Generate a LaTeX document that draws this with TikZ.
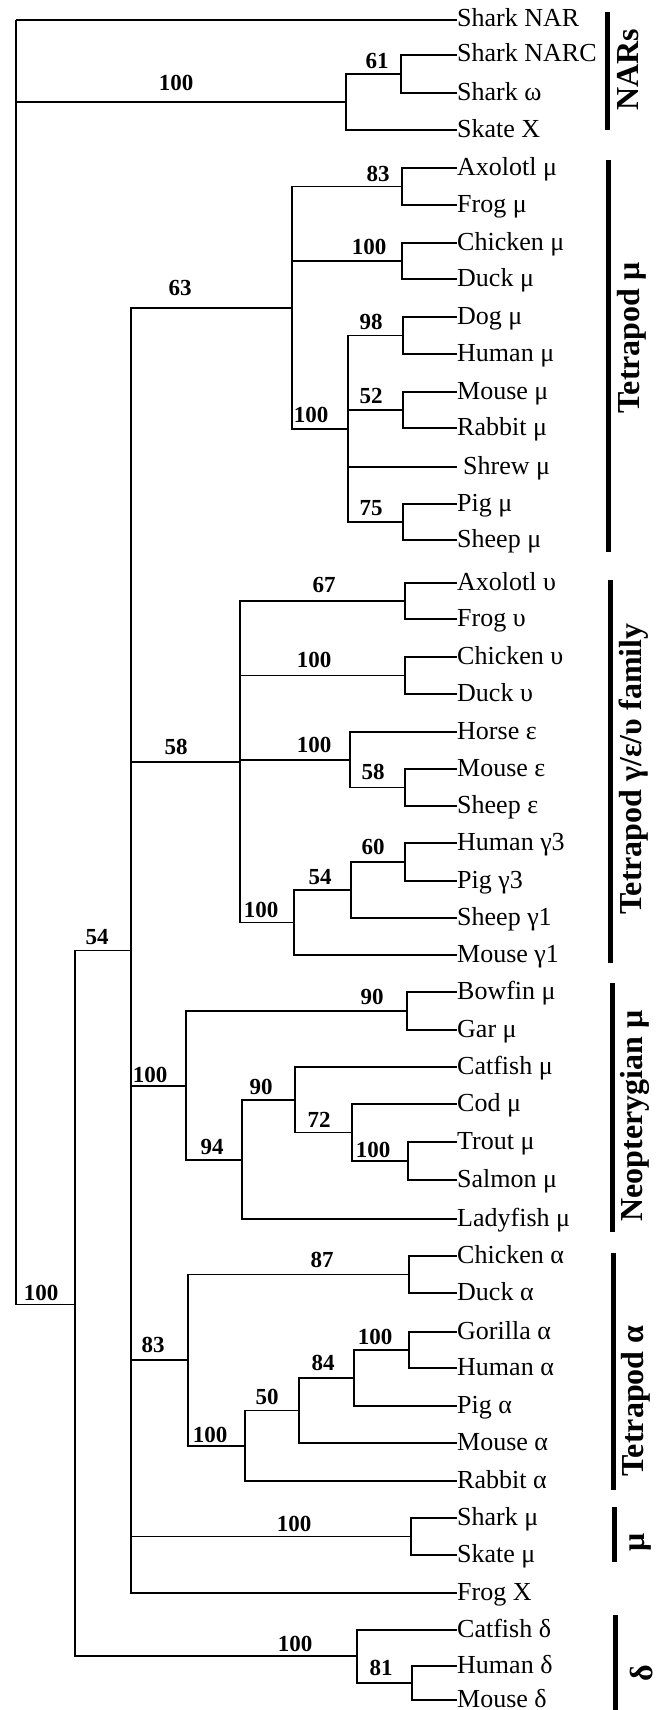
\documentclass[tikz,border=0pt]{standalone}
\usepackage{fontspec}
\setmainfont{Liberation Serif}
\usepackage{tikz}
\usetikzlibrary{positioning,calc}
\newcommand{\leaffont}{\fontsize{26}{28}\selectfont}
\newcommand{\bootfont}{\fontsize{23}{25}\selectfont\bfseries}
\newcommand{\groupfont}{\fontsize{32}{34}\selectfont\bfseries}
\tikzstyle{leaf} = [anchor=west, inner sep=0pt, font=\leaffont, text height=14pt, text depth=0pt]
\tikzstyle{branch} = [line width=1.5pt]

\begin{document}
\begin{tikzpicture}[x=1pt, y=-1pt,
    boot/.style={font=\bootfont, inner sep=0pt},
    grouplabel/.style={rotate=90, font=\groupfont, inner sep=0pt},
    groupbar/.style={line width=5pt}]
    \useasboundingbox (0,0) rectangle (662,1710);

    % Leaves
    \node[leaf] (sharkNAR) at (457,20) {Shark NAR};
    \node[leaf] (sharkNARC) at (457,55) {Shark NARC};
    \node[leaf] (sharkW) at (457,93) {Shark ω};
    \node[leaf] (skateX) at (457,130) {Skate X};
    \node[leaf] (axoM) at (457,168) {Axolotl μ};
    \node[leaf] (frogM) at (457,205) {Frog μ};
    \node[leaf] (chickM) at (457,243) {Chicken μ};
    \node[leaf] (duckM) at (457,279) {Duck μ};
    \node[leaf] (dogM) at (457,317) {Dog μ};
    \node[leaf] (humM) at (457,354) {Human μ};
    \node[leaf] (mouseM) at (457,392) {Mouse μ};
    \node[leaf] (rabbitM) at (457,428) {Rabbit μ};
    \node[leaf] (shrewM) at (457,467) {\hspace{6pt}Shrew μ};
    \node[leaf] (pigM) at (457,504) {Pig μ};
    \node[leaf] (sheepM) at (457,540) {Sheep μ};
    \node[leaf] (axoU) at (457,583) {Axolotl υ};
    \node[leaf] (frogU) at (457,619) {Frog υ};
    \node[leaf] (chickU) at (457,657) {Chicken υ};
    \node[leaf] (duckU) at (457,694) {Duck υ};
    \node[leaf] (horseE) at (457,732) {Horse ε};
    \node[leaf] (mouseE) at (457,769) {Mouse ε};
    \node[leaf] (sheepE) at (457,806) {Sheep ε};
    \node[leaf] (humG) at (457,843) {Human γ3};
    \node[leaf] (pigG) at (457,881) {Pig γ3};
    \node[leaf] (sheepG) at (457,918) {Sheep γ1};
    \node[leaf] (mouseG) at (457,955) {Mouse γ1};
    \node[leaf] (bowM) at (457,992) {Bowfin μ};
    \node[leaf] (garM) at (457,1030) {Gar μ};
    \node[leaf] (catM) at (457,1067) {Catfish μ};
    \node[leaf] (codM) at (457,1104) {Cod μ};
    \node[leaf] (troutM) at (457,1142) {Trout μ};
    \node[leaf] (salmM) at (457,1180) {Salmon μ};
    \node[leaf] (ladyM) at (457,1219) {Ladyfish μ};
    \node[leaf] (chickA) at (457,1256) {Chicken α};
    \node[leaf] (duckA) at (457,1293) {Duck α};
    \node[leaf] (goriA) at (457,1332) {Gorilla α};
    \node[leaf] (humA) at (457,1368) {Human α};
    \node[leaf] (pigA) at (457,1406) {Pig α};
    \node[leaf] (mouseA) at (457,1443) {Mouse α};
    \node[leaf] (rabbitA) at (457,1481) {Rabbit α};
    \node[leaf] (sharkM) at (457,1518) {Shark μ};
    \node[leaf] (skateM) at (457,1555) {Skate μ};
    \node[leaf] (frogX) at (457,1593) {Frog X};
    \node[leaf] (catD) at (457,1630) {Catfish δ};
    \node[leaf] (humD) at (457,1666) {Human δ};
    \node[leaf] (mouseD) at (457,1700) {Mouse δ};

    % Internal nodes
    \coordinate (root) at (16,20);
    \coordinate (nNAR) at (346,102);
    \coordinate (n61) at (401,74);
    \coordinate (nB100) at (75,1304.5);
    \coordinate (n54) at (131,950.5);
    \coordinate (n63) at (292,308);
    \coordinate (n83) at (402,186.5);
    \coordinate (nCkM) at (402,261);
    \coordinate (nMam) at (348,429);
    \coordinate (n98) at (403,335.5);
    \coordinate (n52) at (403,410);
    \coordinate (n75) at (403,522);
    \coordinate (n58) at (240,762);
    \coordinate (n67) at (405,601);
    \coordinate (nCkU) at (405,675.5);
    \coordinate (nEps) at (350,760);
    \coordinate (n58e) at (405,787.5);
    \coordinate (nGam) at (294,922.5);
    \coordinate (n54g) at (351,890);
    \coordinate (n60) at (405,862);
    \coordinate (nNeo) at (186,1086);
    \coordinate (n90a) at (407,1011);
    \coordinate (n94) at (242,1160);
    \coordinate (n90b) at (295,1100);
    \coordinate (n72) at (352,1132.5);
    \coordinate (nSal) at (408,1161);
    \coordinate (nA83) at (188,1360);
    \coordinate (n87) at (409,1274.5);
    \coordinate (nA100) at (245,1446);
    \coordinate (n50) at (299,1410.5);
    \coordinate (n84) at (354,1378);
    \coordinate (nGor) at (409,1350);
    \coordinate (nShk) at (411,1536.5);
    \coordinate (nDel) at (357,1656);
    \coordinate (n81) at (412,1683);

    % Branches
    \draw[branch] (root) |- (sharkNAR.west);
    \draw[branch] (root) |- (nNAR);
    \draw[branch] (root) |- (nB100);
    \draw[branch] (nNAR) |- (n61);
    \draw[branch] (nNAR) |- (skateX.west);
    \draw[branch] (n61) |- (sharkNARC.west);
    \draw[branch] (n61) |- (sharkW.west);
    \draw[branch] (nB100) |- (n54);
    \draw[branch] (nB100) |- (nDel);
    \draw[branch] (n54) |- (n63);
    \draw[branch] (n54) |- (n58);
    \draw[branch] (n54) |- (nNeo);
    \draw[branch] (n54) |- (nA83);
    \draw[branch] (n54) |- (nShk);
    \draw[branch] (n54) |- (frogX.west);
    % tetrapod mu
    \draw[branch] (n63) |- (n83);
    \draw[branch] (n63) |- (nCkM);
    \draw[branch] (n63) |- (nMam);
    \draw[branch] (n83) |- (axoM.west);
    \draw[branch] (n83) |- (frogM.west);
    \draw[branch] (nCkM) |- (chickM.west);
    \draw[branch] (nCkM) |- (duckM.west);
    \draw[branch] (nMam) |- (n98);
    \draw[branch] (nMam) |- (n52);
    \draw[branch] (nMam) |- (shrewM.west);
    \draw[branch] (nMam) |- (n75);
    \draw[branch] (n98) |- (dogM.west);
    \draw[branch] (n98) |- (humM.west);
    \draw[branch] (n52) |- (mouseM.west);
    \draw[branch] (n52) |- (rabbitM.west);
    \draw[branch] (n75) |- (pigM.west);
    \draw[branch] (n75) |- (sheepM.west);
    % gamma / epsilon / upsilon
    \draw[branch] (n58) |- (n67);
    \draw[branch] (n58) |- (nCkU);
    \draw[branch] (n58) |- (nEps);
    \draw[branch] (n58) |- (nGam);
    \draw[branch] (n67) |- (axoU.west);
    \draw[branch] (n67) |- (frogU.west);
    \draw[branch] (nCkU) |- (chickU.west);
    \draw[branch] (nCkU) |- (duckU.west);
    \draw[branch] (nEps) |- (horseE.west);
    \draw[branch] (nEps) |- (n58e);
    \draw[branch] (n58e) |- (mouseE.west);
    \draw[branch] (n58e) |- (sheepE.west);
    \draw[branch] (nGam) |- (n54g);
    \draw[branch] (nGam) |- (mouseG.west);
    \draw[branch] (n54g) |- (n60);
    \draw[branch] (n54g) |- (sheepG.west);
    \draw[branch] (n60) |- (humG.west);
    \draw[branch] (n60) |- (pigG.west);
    % neopterygian
    \draw[branch] (nNeo) |- (n90a);
    \draw[branch] (nNeo) |- (n94);
    \draw[branch] (n90a) |- (bowM.west);
    \draw[branch] (n90a) |- (garM.west);
    \draw[branch] (n94) |- (n90b);
    \draw[branch] (n94) |- (ladyM.west);
    \draw[branch] (n90b) |- (catM.west);
    \draw[branch] (n90b) |- (n72);
    \draw[branch] (n72) |- (codM.west);
    \draw[branch] (n72) |- (nSal);
    \draw[branch] (nSal) |- (troutM.west);
    \draw[branch] (nSal) |- (salmM.west);
    % tetrapod alpha
    \draw[branch] (nA83) |- (n87);
    \draw[branch] (nA83) |- (nA100);
    \draw[branch] (n87) |- (chickA.west);
    \draw[branch] (n87) |- (duckA.west);
    \draw[branch] (nA100) |- (n50);
    \draw[branch] (nA100) |- (rabbitA.west);
    \draw[branch] (n50) |- (n84);
    \draw[branch] (n50) |- (mouseA.west);
    \draw[branch] (n84) |- (nGor);
    \draw[branch] (n84) |- (pigA.west);
    \draw[branch] (nGor) |- (goriA.west);
    \draw[branch] (nGor) |- (humA.west);
    % shark mu, delta
    \draw[branch] (nShk) |- (sharkM.west);
    \draw[branch] (nShk) |- (skateM.west);
    \draw[branch] (nDel) |- (catD.west);
    \draw[branch] (nDel) |- (n81);
    \draw[branch] (n81) |- (humD.west);
    \draw[branch] (n81) |- (mouseD.west);

    % Bootstrap values
    \node[boot] (bNAR) at (176,83) {100};
    \node[boot] (b61) at (377,61) {61};
    \node[boot] (b83) at (378,174) {83};
    \node[boot] (bCkM) at (369,247) {100};
    \node[boot] (b63) at (180,288) {63};
    \node[boot] (b98) at (371,322) {98};
    \node[boot] (b52) at (371,396) {52};
    \node[boot] (bMam) at (311,415) {100};
    \node[boot] (b75) at (371,508) {75};
    \node[boot] (b67) at (324,585) {67};
    \node[boot] (bCkU) at (314,660) {100};
    \node[boot] (b58) at (176,747) {58};
    \node[boot] (bEps) at (314,745) {100};
    \node[boot] (b58e) at (373,772) {58};
    \node[boot] (b60) at (373,847) {60};
    \node[boot] (b54g) at (320,877) {54};
    \node[boot] (bGam) at (261,910) {100};
    \node[boot] (b54) at (97,937) {54};
    \node[boot] (b90a) at (372,997) {90};
    \node[boot] (bNeo) at (150,1075) {100};
    \node[boot] (b90b) at (261,1087) {90};
    \node[boot] (b72) at (319,1120) {72};
    \node[boot] (b94) at (212,1147) {94};
    \node[boot] (bSal) at (373,1150) {100};
    \node[boot] (b87) at (322,1260) {87};
    \node[boot] (bB100) at (41,1293) {100};
    \node[boot] (bA83) at (153,1345) {83};
    \node[boot] (bGor) at (375,1337) {100};
    \node[boot] (b84) at (323,1363) {84};
    \node[boot] (b50) at (267,1397) {50};
    \node[boot] (bA100) at (210,1435) {100};
    \node[boot] (bShk) at (294,1524) {100};
    \node[boot] (bDel) at (295,1644) {100};
    \node[boot] (b81) at (381,1668) {81};

    % Groups
    \draw[groupbar] (607,12) -- (607,130);
    \draw[groupbar] (608,160) -- (608,552);
    \draw[groupbar] (610,580) -- (610,963);
    \draw[groupbar] (612,983) -- (612,1232);
    \draw[groupbar] (613,1253) -- (613,1490);
    \draw[groupbar] (614,1507) -- (614,1562);
    \draw[groupbar] (615,1615) -- (615,1710);
    \node[grouplabel] (gNAR) at (628,70) {NARs};
    \node[grouplabel] (gTetM) at (632,338) {Tetrapod μ};
    \node[grouplabel] (gTetG) at (634,769) {Tetrapod γ/ε/υ family};
    \node[grouplabel] (gNeo) at (635,1116) {Neopterygian μ};
    \node[grouplabel] (gTetA) at (636,1401) {Tetrapod α};
    \node[grouplabel] (gMu) at (641,1542) {μ};
    \node[grouplabel] (gDel) at (642,1673) {δ};
\end{tikzpicture}
\end{document}
